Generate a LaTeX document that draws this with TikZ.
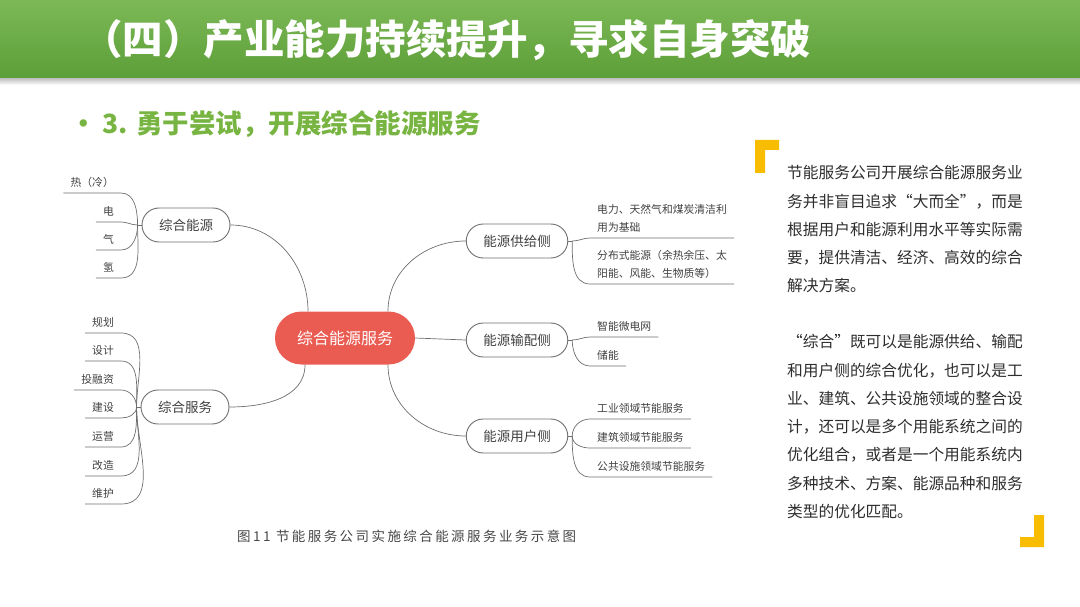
\documentclass[tikz,border=0pt]{standalone}
\usepackage{fontspec}
\setmainfont{Noto Sans CJK SC}
\newfontfamily\capfont[LetterSpace=18]{Noto Sans CJK SC}
\definecolor{barTop}{RGB}{124,185,86}
\definecolor{barBot}{RGB}{92,158,56}
\definecolor{subgreen}{RGB}{120,180,65}
\definecolor{corered}{RGB}{234,92,82}
\definecolor{linegray}{RGB}{110,110,110}
\definecolor{textgray}{RGB}{64,64,64}
\definecolor{bracketyellow}{RGB}{248,188,0}
\definecolor{paratext}{RGB}{45,45,45}
\definecolor{captext}{RGB}{70,70,70}
\begin{document}
\begin{tikzpicture}[x=1pt,y=1pt,
  topic/.style={draw=linegray,line width=0.9pt,rounded corners=17pt,minimum height=34pt,inner xsep=17pt,inner ysep=0pt,text=textgray,font=\fontsize{13.5}{16}\selectfont},
  core/.style={fill=corered,rounded corners=26.5pt,minimum height=53pt,inner xsep=22pt,text=white,font=\fontsize{16}{19}\selectfont},
  leafL/.style={anchor=south east,inner xsep=7pt,inner ysep=5.5pt,text=textgray,font=\fontsize{10.8}{18}\selectfont},
  leafR/.style={leafL,anchor=south west,align=left},
  link/.style={draw=linegray,line width=0.7pt},
  para/.style={anchor=west,inner sep=0pt,text=paratext,font=\fontsize{15.7}{18}\selectfont}]
\useasboundingbox (0,0) rectangle (1080,-607);
% title bar
\shade[top color=barTop,bottom color=barBot] (0,0) rectangle (1080,-79);
\shade[top color=black!22,bottom color=white] (0,-79) rectangle (1080,-85);
\node[anchor=west,inner sep=0pt,text=white,font=\fontsize{40.5}{48}\selectfont\bfseries] (title) at (82,-40) {（四）产业能力持续提升，寻求自身突破};
\node[anchor=west,inner sep=0pt,text=subgreen,font=\fontsize{26.5}{30}\selectfont\bfseries] (sub) at (70,-124) {• 3. 勇于尝试，开展综合能源服务};
% mind map
\node[core] (core) at (345,-338) {综合能源服务};
\node[topic] (en) at (186,-225) {综合能源};
\node[topic] (sv) at (185,-407) {综合服务};
\node[topic] (sup) at (517,-241) {能源供给侧};
\node[topic] (grid) at (517,-340) {能源输配侧};
\node[topic] (usr) at (517,-436) {能源用户侧};
\draw[link] ([xshift=-37pt]core.north) to[out=90,in=0] (en.east);
\draw[link] ([xshift=-40pt]core.south) to[out=-90,in=0] (sv.east);
\draw[link] ([xshift=43pt]core.north) to[out=90,in=180] (sup.west);
\draw[link] (core.east) -- (grid.west);
\draw[link] ([xshift=43pt]core.south) to[out=-90,in=180] (usr.west);
% joints
\coordinate (jen) at ([xshift=-4pt]en.west);
\coordinate (jsv) at ([xshift=-4pt]sv.west);
\coordinate (jsup) at ([xshift=4pt]sup.east);
\coordinate (jgrid) at ([xshift=4pt]grid.east);
\coordinate (jusr) at ([xshift=4pt]usr.east);
\draw[link] (en.west) -- (jen); \draw[link] (sv.west) -- (jsv);
\draw[link] (sup.east) -- (jsup); \draw[link] (grid.east) -- (jgrid); \draw[link] (usr.east) -- (jusr);
% left leaves
\foreach \y/\t/\a [count=\i] in {193/热（冷）/90,222/电/180,250/气/-90,278/氢/-90}{
  \node[leafL] (e\i) at (121,-\y) {\t};
  \draw[link] (e\i.south west) -- (e\i.south east) to[out=0,in=\a] (jen);
}
\foreach \y/\t/\a [count=\i] in {333/规划/90,361/设计/90,390/投融资/90,418/建设/-90,447/运营/-90,476/改造/-90,504/维护/-90}{
  \node[leafL] (s\i) at (121,-\y) {\t};
  \draw[link] (s\i.south west) -- (s\i.south east) to[out=0,in=\a] (jsv);
}
% right leaves
\foreach \y/\t/\a [count=\i] in {238/{电力、天然气和煤炭清洁利\\用为基础}/0,284/{分布式能源（余热余压、太\\阳能、风能、生物质等）}/-90}{
  \node[leafR] (p\i) at (590,-\y) {\t};
  \draw[link] (jsup) to[out=\a,in=180] (p\i.south west) -- (p\i.south east);
}
\foreach \y/\t/\a [count=\i] in {337/智能微电网/0,366/储能/-90}{
  \node[leafR] (g\i) at (590,-\y) {\t};
  \draw[link] (jgrid) to[out=\a,in=180] (g\i.south west) -- (g\i.south east);
}
\foreach \y/\t/\a [count=\i] in {419/工业领域节能服务/90,448/建筑领域节能服务/-90,477/公共设施领域节能服务/-90}{
  \node[leafR] (u\i) at (590,-\y) {\t};
  \draw[link] (jusr) to[out=\a,in=180] (u\i.south west) -- (u\i.south east);
}
\node[anchor=west,inner sep=0pt,text=captext,font=\capfont\fontsize{13.5}{16}\selectfont] (cap) at (237,-536) {图11 节能服务公司实施综合能源服务业务示意图};
% text block
\fill[bracketyellow] (755,-140) -- (779,-140) -- (779,-150) -- (765,-150) -- (765,-173) -- (755,-173) -- cycle;
\fill[bracketyellow] (1044,-547) -- (1020,-547) -- (1020,-537) -- (1034,-537) -- (1034,-515) -- (1044,-515) -- cycle;
\foreach \t [count=\i] in {节能服务公司开展综合能源服务业,务并非盲目追求“大而全”，而是,根据用户和能源利用水平等实际需,要，提供清洁、经济、高效的综合,解决方案。}{
  \node[para] (a\i) at (787,{-173-28.25*(\i-1)}) {\t};
}
\foreach \t [count=\i] in {“综合”既可以是能源供给、输配,和用户侧的综合优化，也可以是工,业、建筑、公共设施领域的整合设,计，还可以是多个用能系统之间的,优化组合，或者是一个用能系统内,多种技术、方案、能源品种和服务,类型的优化匹配。}{
  \node[para] (b\i) at (787,{-342-28.25*(\i-1)}) {\t};
}
\end{tikzpicture}
\end{document}
